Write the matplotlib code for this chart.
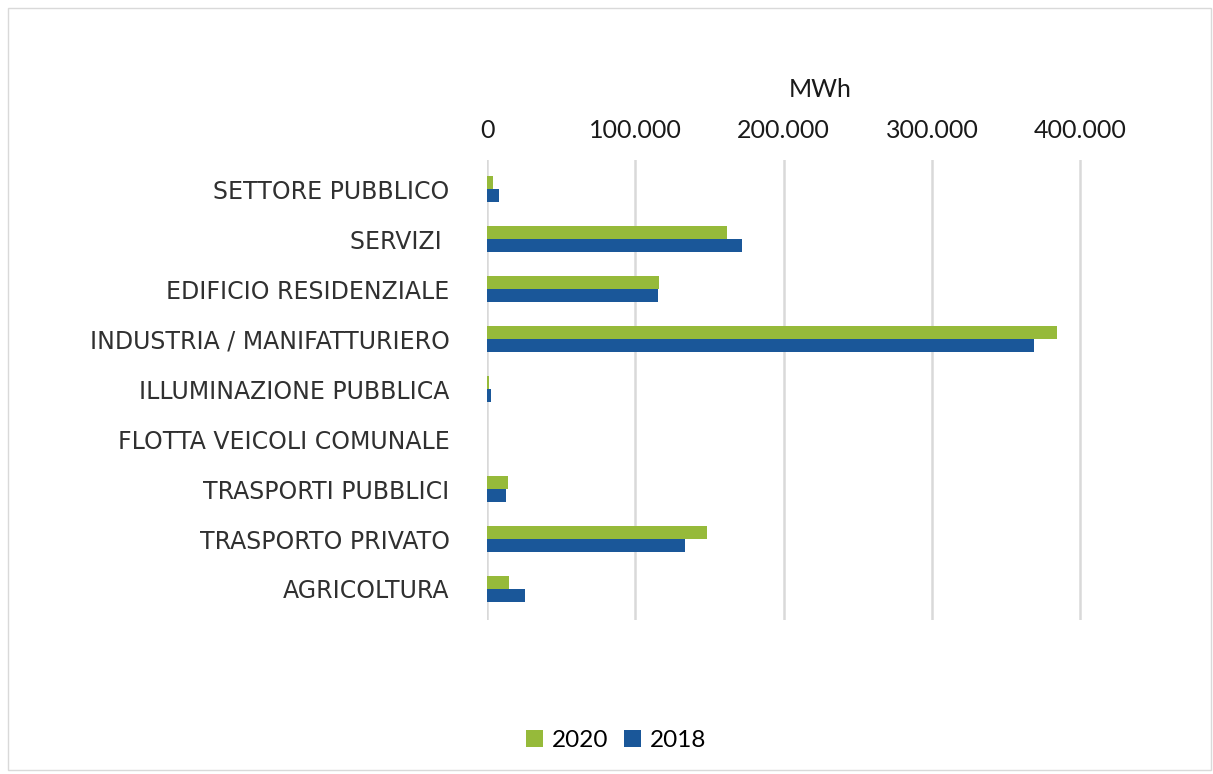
import numpy as np
import matplotlib.pyplot as plt
from matplotlib.patches import Rectangle
from matplotlib.ticker import FuncFormatter

# Dati (MWh)
settori = ['SETTORE PUBBLICO', 'SERVIZI ', 'EDIFICIO RESIDENZIALE',
           'INDUSTRIA / MANIFATTURIERO', 'ILLUMINAZIONE PUBBLICA',
           'FLOTTA VEICOLI COMUNALE', 'TRASPORTI PUBBLICI',
           'TRASPORTO PRIVATO', 'AGRICOLTURA']
val_2020 = [3800, 162000, 116000, 384500, 1500, 300, 14000, 148500, 14800]
val_2018 = [8000, 172000, 115500, 369000, 3000, 200, 12800, 133500, 25600]
ticks = [0, 100000, 200000, 300000, 400000]

verde = '#96BA3A'
blu = '#1A5799'

plt.rcParams['font.family'] = ['Lato', 'DejaVu Sans']

fig = plt.figure(figsize=(12.13, 7.74), dpi=100)
ax = fig.add_axes([0.4015, 0.199, 0.549, 0.594])

y = np.arange(len(settori))
h = 0.26
ax.barh(y - h / 2, val_2020, height=h, color=verde, label='2020', zorder=3)
ax.barh(y + h / 2, val_2018, height=h, color=blu, label='2018', zorder=3)

ax.set_ylim(len(settori) - 0.38, -0.58)
ax.set_xlim(0, 449000)
ax.set_xticks(ticks)
ax.xaxis.set_major_formatter(FuncFormatter(lambda v, p: f'{int(v):,}'.replace(',', '.')))
ax.xaxis.tick_top()
ax.xaxis.set_label_position('top')
ax.set_xlabel('MWh', fontsize=18, color='#1a1a1a', labelpad=16)
ax.tick_params(axis='x', length=0, pad=13, labelsize=18, labelcolor='#1a1a1a')

ax.set_yticks(y)
ax.set_yticklabels(settori, fontfamily='DejaVu Sans')
ax.tick_params(axis='y', length=0, pad=27, labelsize=17, labelcolor='#303030')

ax.grid(axis='x', color='#D9D9D9', linewidth=1.8, zorder=0)
for s in ax.spines.values():
    s.set_visible(False)

leg = fig.legend(loc='lower center', bbox_to_anchor=(0.508, 0.002), ncol=2,
                 frameon=False, fontsize=17.5, handlelength=0.7, handleheight=0.7,
                 handletextpad=0.35, columnspacing=0.65)

# Cornice grigia
fig.patches.append(Rectangle((0.007, 0.005), 0.991, 0.985, transform=fig.transFigure,
                             fill=False, edgecolor='#D9D9D9', linewidth=1))

plt.savefig('out.png', dpi=100)
